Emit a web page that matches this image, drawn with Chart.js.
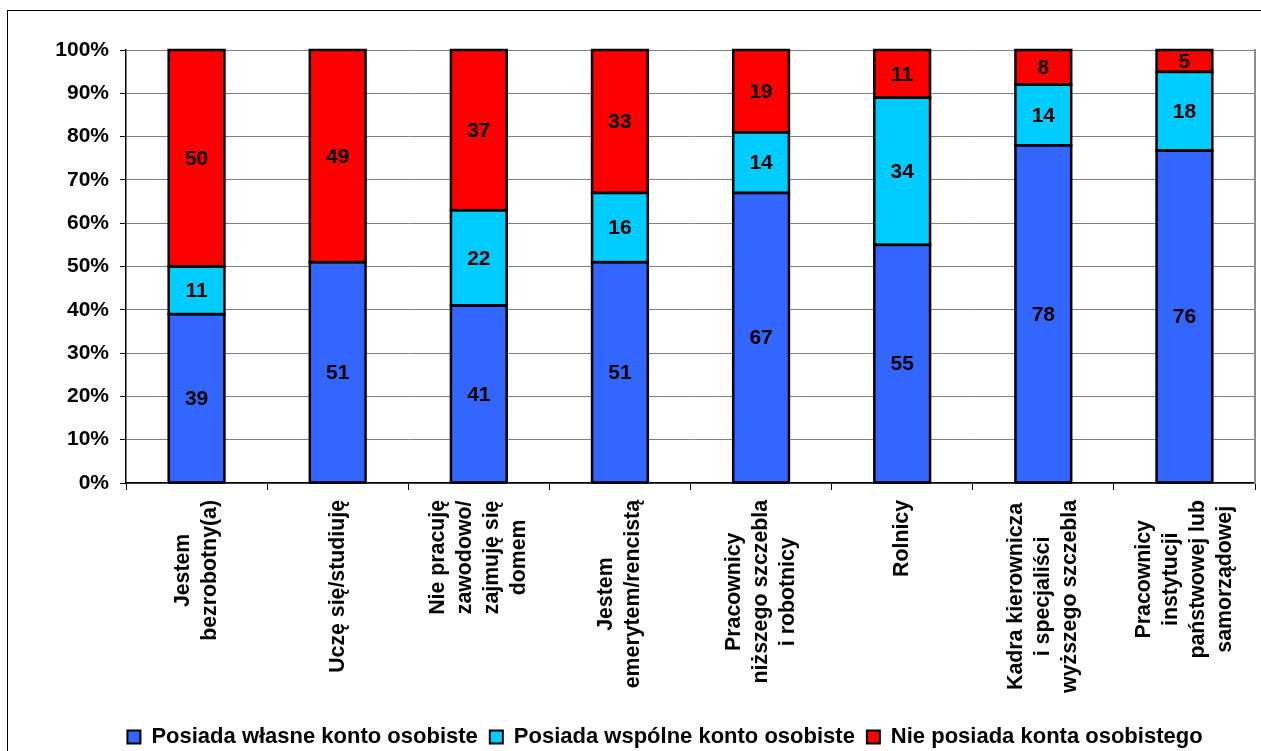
<!DOCTYPE html>
<html lang="pl">
<head>
<meta charset="utf-8">
<title>Posiadanie konta osobistego</title>
<script src="https://cdn.jsdelivr.net/npm/chart.js@4.4.1/dist/chart.umd.min.js"></script>
<style>
    html, body {
        margin: 0;
        padding: 0;
        background: #fff;
        overflow: hidden;
        width: 1261px;
        height: 751px;
    }
    .frame {
        position: absolute;
        left: 7px;
        top: 10px;
        width: 1400px;
        height: 800px;
        border-left: 1px solid #000;
        border-top: 1px solid #000;
    }
    .chart-box {
        position: absolute;
        left: 8px;
        top: 11px;
        width: 1300px;
        height: 747px;
    }
</style>
</head>
<body>
<div class="frame"></div>
<div class="chart-box"><canvas id="accountChart"></canvas></div>

<script>
// Categories (one array per category = lines of the rotated label)
const categories = [
    ['Jestem', 'bezrobotny(a)'],
    ['Uczę się/studiuję'],
    ['Nie pracuję', 'zawodowo/', 'zajmuję się', 'domem'],
    ['Jestem', 'emerytem/rencistą'],
    ['Pracownicy', 'niższego szczebla', 'i robotnicy'],
    ['Rolnicy'],
    ['Kadra kierownicza', 'i specjaliści', 'wyższego szczebla'],
    ['Pracownicy', 'instytucji', 'państwowej lub', 'samorządowej']
];

// Series values (as printed on the bars)
const ownAccount = [39, 51, 41, 51, 67, 55, 78, 76];
const jointAccount = [11, 0, 22, 16, 14, 34, 14, 18];
const noAccount = [50, 49, 37, 33, 19, 11, 8, 5];

const seriesNames = [
    'Posiada własne konto osobiste',
    'Posiada wspólne konto osobiste',
    'Nie posiada konta osobistego'
];
const seriesColors = ['#3366FF', '#00CCFF', '#FF0000'];

// Y axis tick values
const yTicks = [0, 10, 20, 30, 40, 50, 60, 70, 80, 90, 100];

const FONT = '"Liberation Sans", Arial, Helvetica, sans-serif';

/**
 * 100% stacked: convert each column to shares of its total
 */
function toPercent(values) {
    return values.map((v, i) => {
        const total = ownAccount[i] + jointAccount[i] + noAccount[i];
        return v / total * 100;
    });
}

/**
 * Plugin: black bar outlines and value labels
 */
const barDecorations = {
    id: 'barDecorations',
    afterDatasetsDraw(chart) {
        const { ctx } = chart;
        ctx.save();
        chart.data.datasets.forEach((dataset, di) => {
            const meta = chart.getDatasetMeta(di);
            meta.data.forEach((bar, i) => {
                if (!dataset.raw[i]) return;
                const p = bar.getProps(['x', 'y', 'base', 'width'], true);
                const top = Math.min(p.y, p.base);
                const h = Math.abs(p.base - p.y);

                ctx.strokeStyle = '#000';
                ctx.lineWidth = 2.5;
                ctx.strokeRect(p.x - p.width / 2, top, p.width, h);

                ctx.fillStyle = '#000';
                ctx.font = 'bold 21px ' + FONT;
                ctx.textAlign = 'center';
                ctx.textBaseline = 'middle';
                ctx.fillText(String(dataset.raw[i]), p.x, top + h / 2 + 1);
            });
        });
        ctx.restore();
    }
};

/**
 * Plugin: rotated, centred multi-line category labels
 */
const rotatedLabels = {
    id: 'rotatedLabels',
    afterDraw(chart) {
        const { ctx, chartArea } = chart;
        const xScale = chart.scales.x;
        const lineHeight = 27;

        ctx.save();
        ctx.font = 'bold 21.3px ' + FONT;
        ctx.fillStyle = '#000';
        ctx.textAlign = 'center';
        ctx.textBaseline = 'middle';

        categories.forEach((lines, i) => {
            const maxW = Math.max(...lines.map(l => ctx.measureText(l).width));
            const x = xScale.getPixelForValue(i);
            ctx.save();
            ctx.translate(x, chartArea.bottom + 17 + maxW / 2);
            ctx.rotate(-Math.PI / 2);
            lines.forEach((line, j) => {
                ctx.fillText(line, 0, (j - (lines.length - 1) / 2) * lineHeight);
            });
            ctx.restore();
        });
        ctx.restore();
    }
};

document.addEventListener('DOMContentLoaded', function() {
    initializeChart();
});

function initializeChart() {
    const canvas = document.getElementById('accountChart');
    if (!canvas || typeof Chart === 'undefined') return;

    Chart.defaults.font.family = FONT;
    Chart.defaults.color = '#000';

    const seriesValues = [ownAccount, jointAccount, noAccount];

    new Chart(canvas, {
        type: 'bar',
        data: {
            labels: categories.map(c => c.join(' ')),
            datasets: seriesValues.map((values, k) => ({
                label: seriesNames[k],
                data: toPercent(values),
                raw: values,
                backgroundColor: seriesColors[k],
                borderWidth: 0,
                barPercentage: 0.395,
                categoryPercentage: 1
            }))
        },
        options: {
            responsive: true,
            maintainAspectRatio: false,
            animation: false,
            layout: {
                padding: { left: 40, right: 26, top: 39, bottom: 0 }
            },
            scales: {
                x: {
                    stacked: true,
                    offset: true,
                    ticks: { display: false },
                    grid: {
                        offset: true,
                        drawOnChartArea: false,
                        drawTicks: true,
                        tickLength: 7,
                        tickColor: '#000'
                    },
                    border: { color: '#000', width: 1.5 },
                    afterFit(scale) {
                        scale.height = 231;
                    }
                },
                y: {
                    stacked: true,
                    min: yTicks[0],
                    max: yTicks[yTicks.length - 1],
                    afterBuildTicks(scale) {
                        scale.ticks = yTicks.map(v => ({ value: v }));
                    },
                    ticks: {
                        padding: 11,
                        font: { size: 21, weight: 'bold' },
                        callback: function(value) {
                            return value + '%';
                        }
                    },
                    grid: {
                        color: '#808080',
                        lineWidth: 1,
                        tickLength: 6,
                        tickColor: '#000'
                    },
                    border: { color: '#000', width: 1.5 },
                    afterFit(scale) {
                        scale.width = 78;
                    }
                },
                // right edge of the plot frame (gray), no labels
                yRight: {
                    position: 'right',
                    min: 0,
                    max: 100,
                    ticks: { display: false },
                    grid: { drawOnChartArea: false, drawTicks: false },
                    border: { color: '#8c8c8c', width: 2 },
                    afterFit(scale) {
                        scale.width = 27;
                    }
                }
            },
            plugins: {
                tooltip: { enabled: false },
                legend: {
                    position: 'bottom',
                    labels: {
                        boxWidth: 13,
                        boxHeight: 13,
                        padding: 12,
                        font: { size: 22, weight: 'bold' },
                        color: '#000',
                        generateLabels(chart) {
                            const items = Chart.defaults.plugins.legend.labels.generateLabels(chart);
                            items.forEach(item => {
                                item.strokeStyle = '#000';
                                item.lineWidth = 2;
                            });
                            return items;
                        }
                    }
                }
            }
        },
        plugins: [barDecorations, rotatedLabels]
    });
}
</script>
</body>
</html>
